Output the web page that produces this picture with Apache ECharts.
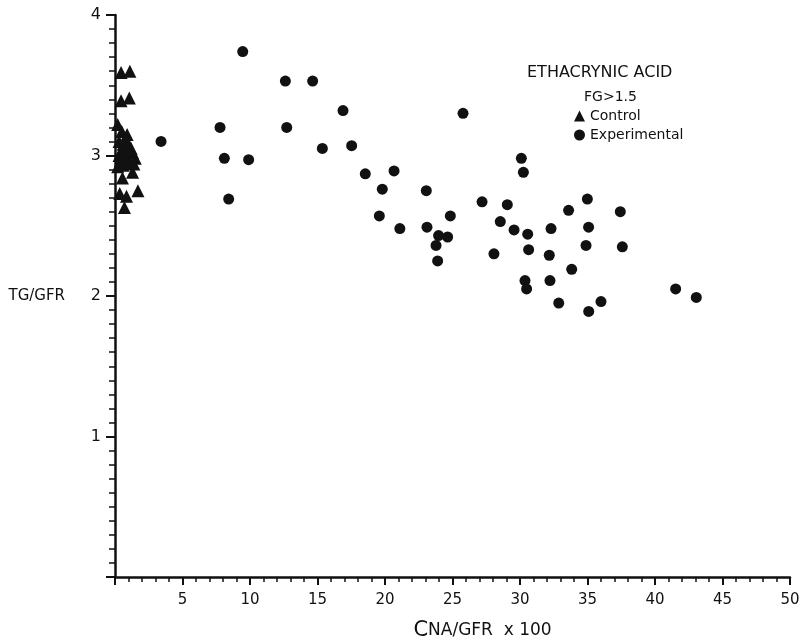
<!DOCTYPE html>
<html>
<head>
<meta charset="utf-8">
<script src="https://cdn.jsdelivr.net/npm/echarts@6/dist/echarts.min.js"></script>
<style>
  html, body { margin: 0; padding: 0; background: #fff; }
  #chart { width: 800px; height: 641px; }
</style>
</head>
<body>
<div id="chart"></div>
<script>
// control group (triangles) - CNA/GFR x 100, TG/GFR
var controlPts = [
    [0.45, 3.59], [1.1, 3.60], [0.45, 3.39], [1.06, 3.41],
    [0.2, 3.22], [0.5, 3.17], [0.8, 3.12], [0.3, 3.10], [1.0, 3.07],
    [0.5, 3.04], [1.3, 3.02], [0.3, 3.00], [0.8, 2.99], [1.5, 2.98],
    [0.4, 2.96], [1.1, 2.95], [0.6, 2.93], [1.4, 2.94], [0.2, 2.92],
    [0.9, 3.15], [0.6, 3.08], [1.2, 3.05], [0.9, 2.96],
    [0.55, 2.84], [1.3, 2.88], [1.7, 2.75], [0.35, 2.73], [0.85, 2.71],
    [0.7, 2.63]
];
// experimental group (circles)
var experimentalPts = [
    [3.41, 3.10], [9.46, 3.74], [12.62, 3.53], [14.64, 3.53], [16.89, 3.32],
    [7.78, 3.20], [12.72, 3.20], [15.36, 3.05], [17.53, 3.07], [8.1, 2.98],
    [9.9, 2.97], [18.54, 2.87], [20.67, 2.89], [8.42, 2.69], [19.8, 2.76],
    [19.58, 2.57], [21.1, 2.48], [25.78, 3.30], [30.1, 2.98], [30.25, 2.88],
    [23.06, 2.75], [27.19, 2.67], [29.06, 2.65], [34.99, 2.69], [33.6, 2.61],
    [24.84, 2.57], [28.54, 2.53], [23.11, 2.49], [29.56, 2.47], [32.3, 2.48],
    [35.08, 2.49], [23.97, 2.43], [24.64, 2.42], [30.57, 2.44], [23.78, 2.36],
    [34.89, 2.36], [30.64, 2.33], [23.9, 2.25], [28.07, 2.30], [32.17, 2.29],
    [33.83, 2.19], [30.37, 2.11], [30.49, 2.05], [32.22, 2.11], [32.87, 1.95],
    [35.09, 1.89], [36.0, 1.96], [37.43, 2.60], [37.58, 2.35], [41.53, 2.05],
    [43.06, 1.99]
];
var seriesNames = ['Control', 'Experimental'];
var xTicks = [5, 10, 15, 20, 25, 30, 35, 40, 45, 50];
var yTicks = [1, 2, 3, 4];

var font = 'DejaVu Sans';
var ink = '#111';

var chart = echarts.init(document.getElementById('chart'));
var option = {
    backgroundColor: '#fff',
    animation: false,
    textStyle: { fontFamily: font, color: ink },
    title: [{
        text: 'ETHACRYNIC ACID',
        left: 522, top: 60,
        textStyle: { fontFamily: font, fontSize: 16, fontWeight: 'normal', color: ink }
    }, {
        text: 'FG>1.5',
        left: 579, top: 85,
        textStyle: { fontFamily: font, fontSize: 14, fontWeight: 'normal', color: ink }
    }],
    legend: {
        data: [{ name: seriesNames[0], icon: 'triangle' }, { name: seriesNames[1], icon: 'circle' }],
        orient: 'vertical',
        left: 569, top: 104,
        itemWidth: 11, itemHeight: 11, itemGap: 5,
        textStyle: { fontFamily: font, fontSize: 14, color: ink }
    },
    grid: { left: 115, right: 10, top: 15, bottom: 64, outerBoundsMode: 'none' },
    xAxis: {
        type: 'value', min: 0, max: 50, interval: 5,
        name: '{c|C}NA/GFR  x 100', nameLocation: 'middle', nameGap: 43,
        nameTextStyle: {
            fontFamily: font, fontSize: 17, color: ink, padding: [0, 0, 0, 60],
            rich: { c: { fontFamily: font, fontSize: 21, color: ink } }
        },
        axisLine: { lineStyle: { color: ink, width: 2.5 } },
        axisTick: { length: 8, lineStyle: { color: ink, width: 2 } },
        minorTick: { show: true, splitNumber: 5, length: 5, lineStyle: { color: ink, width: 1.5 } },
        splitLine: { show: false },
        axisLabel: {
            margin: 16, fontSize: 15, color: ink, fontFamily: font,
            formatter: function (v) { return xTicks.indexOf(v) >= 0 ? String(v) : ''; }
        }
    },
    yAxis: {
        type: 'value', min: 0, max: 4, interval: 1,
        name: 'TG/GFR', nameLocation: 'middle', nameGap: 50, nameRotate: 0,
        nameTextStyle: { fontFamily: font, fontSize: 15, color: ink },
        axisLine: { lineStyle: { color: ink, width: 2.5 } },
        axisTick: { length: 9, lineStyle: { color: ink, width: 2 } },
        minorTick: { show: true, splitNumber: 10, length: 6, lineStyle: { color: ink, width: 1.5 } },
        splitLine: { show: false },
        axisLabel: {
            margin: 14, fontSize: 16, color: ink, fontFamily: font,
            formatter: function (v) { return yTicks.indexOf(v) >= 0 ? String(v) : ''; }
        }
    },
    series: [{
        name: seriesNames[0],
        type: 'scatter',
        symbol: 'triangle',
        symbolSize: 13,
        itemStyle: { color: ink, opacity: 1 },
        data: controlPts
    }, {
        name: seriesNames[1],
        type: 'scatter',
        symbol: 'circle',
        symbolSize: 11,
        itemStyle: { color: ink, opacity: 1 },
        data: experimentalPts
    }]
};
chart.setOption(option);
</script>
</body>
</html>
